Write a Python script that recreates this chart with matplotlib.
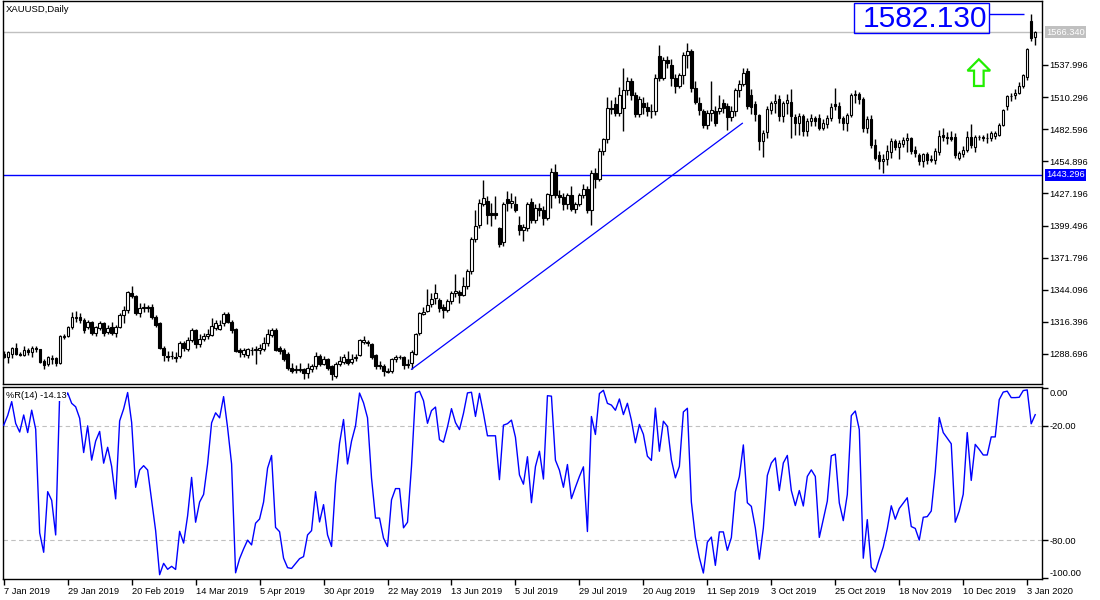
import numpy as np
import pandas as pd
import matplotlib
matplotlib.use("Agg")
import matplotlib.pyplot as plt
from matplotlib.patches import Rectangle, Polygon
from matplotlib.transforms import blended_transform_factory, ScaledTranslation

# ---------------- data (XAUUSD daily, 7 Jan 2019 .. 7 Jan 2020) ----------------
open_ = [
    1289,1286,1289,1294,1289,1288,1292,1290,1294,1293,
    1283,1280,1284,1285,1281,1303,1304,1312,1320,1321,
    1318,1312,1316,1307,1311,1315,1308,1312,1307,1312,
    1322,1327,1341,1339,1324,1328,1329,1329,1321,1315,
    1294,1287,1287,1286,1287,1298,1293,1301,1309,1297,
    1302,1304,1305,1311,1310,1315,1323,1316,1310,1292,
    1289,1288,1292,1292,1292,1293,1298,1305,1309,1294,
    1292,1289,1277,1276,1275,1276,1272,1276,1278,1287,
    1280,1284,1278,1270,1280,1282,1284,1282,1285,1288,
    1299,1299,1297,1288,1279,1278,1273,1274,1284,1286,
    1286,1279,1281,1289,1307,1323,1326,1332,1337,1335,
    1329,1327,1334,1341,1342,1340,1347,1360,1388,1400,
    1418,1421,1410,1410,1397,1385,1422,1419,1418,1400,
    1396,1397,1420,1404,1415,1413,1406,1426,1446,1426,
    1424,1418,1426,1414,1418,1426,1431,1413,1445,1440,
    1464,1474,1501,1504,1497,1501,1516,1524,1512,1496,
    1505,1502,1498,1498,1546,1527,1542,1538,1527,1520,
    1529,1547,1550,1518,1505,1498,1486,1497,1498,1498,
    1505,1503,1493,1498,1516,1522,1533,1512,1504,1495,
    1472,1480,1499,1505,1509,1494,1505,1506,1493,1488,
    1494,1481,1490,1492,1492,1484,1487,1492,1504,1503,
    1492,1488,1495,1512,1513,1509,1484,1491,1469,1460,
    1455,1457,1463,1472,1467,1470,1473,1475,1465,1460,
    1455,1461,1456,1456,1463,1478,1476,1476,1476,1458,
    1461,1465,1476,1467,1476,1476,1475,1475,1477,1478,
    1486,1503,1511,1512,1514,1520,1528,1576,1562,
]
high = [
    1291,1291,1295,1298,1290,1296,1294,1296,1296,1293,
    1284,1287,1288,1286,1305,1306,1313,1325,1326,1324,
    1320,1318,1317,1313,1317,1316,1314,1316,1314,1324,
    1330,1343,1347,1340,1333,1333,1331,1332,1322,1316,
    1296,1291,1291,1290,1300,1300,1303,1311,1310,1306,
    1307,1310,1320,1318,1318,1325,1325,1318,1311,1294,
    1294,1294,1295,1296,1297,1303,1310,1311,1311,1296,
    1294,1290,1281,1279,1281,1277,1281,1280,1290,1289,
    1287,1285,1279,1282,1287,1289,1291,1289,1289,1302,
    1304,1301,1298,1289,1283,1280,1277,1285,1288,1288,
    1287,1284,1292,1307,1325,1329,1345,1341,1349,1337,
    1332,1336,1343,1358,1344,1355,1362,1390,1413,1422,
    1439,1425,1419,1425,1398,1420,1429,1428,1425,1408,
    1401,1420,1423,1418,1419,1416,1428,1449,1453,1430,
    1428,1428,1434,1420,1428,1435,1434,1447,1449,1466,
    1475,1510,1508,1510,1519,1535,1528,1527,1515,1511,
    1510,1506,1504,1530,1555,1545,1546,1543,1530,1531,
    1549,1557,1552,1524,1510,1500,1499,1524,1503,1512,
    1509,1505,1503,1518,1525,1535,1535,1517,1507,1496,
    1482,1503,1507,1513,1512,1507,1513,1517,1496,1497,
    1496,1492,1496,1494,1496,1491,1495,1505,1518,1506,
    1494,1497,1514,1516,1515,1510,1494,1495,1474,1464,
    1461,1469,1475,1474,1473,1476,1479,1476,1468,1462,
    1462,1463,1460,1466,1482,1484,1480,1481,1479,1464,
    1468,1481,1487,1478,1478,1478,1479,1481,1481,1488,
    1500,1512,1514,1517,1523,1530,1553,1582.13,1567,
]
low = [
    1285,1281,1285,1288,1287,1287,1288,1286,1290,1281,
    1276,1278,1280,1278,1280,1302,1303,1310,1316,1315,
    1307,1310,1305,1304,1309,1304,1306,1305,1303,1311,
    1315,1324,1337,1322,1321,1325,1325,1319,1312,1293,
    1283,1283,1284,1282,1285,1291,1291,1299,1294,1295,
    1300,1302,1304,1309,1309,1313,1315,1307,1290,1286,
    1286,1285,1288,1280,1289,1291,1296,1303,1291,1289,
    1283,1275,1272,1272,1273,1267,1268,1273,1276,1278,
    1279,1275,1266,1268,1278,1280,1279,1280,1283,1287,
    1297,1296,1284,1276,1276,1270,1272,1272,1282,1284,
    1276,1277,1276,1288,1305,1322,1325,1329,1332,1325,
    1320,1325,1332,1338,1333,1339,1345,1358,1385,1397,
    1416,1401,1399,1405,1381,1382,1412,1415,1411,1391,
    1386,1395,1402,1402,1408,1400,1404,1415,1423,1419,
    1413,1414,1412,1410,1416,1423,1410,1400,1432,1438,
    1460,1471,1496,1494,1494,1481,1512,1508,1493,1493,
    1496,1494,1492,1495,1524,1525,1535,1520,1514,1518,
    1522,1535,1515,1504,1495,1484,1483,1490,1485,1496,
    1497,1482,1490,1494,1510,1520,1500,1496,1490,1465,
    1459,1475,1496,1497,1490,1489,1496,1475,1478,1478,
    1477,1477,1485,1485,1482,1482,1484,1490,1499,1488,
    1482,1481,1493,1505,1504,1480,1479,1466,1456,1448,
    1445,1452,1458,1465,1457,1467,1463,1461,1459,1452,
    1450,1453,1454,1453,1460,1472,1470,1472,1458,1456,
    1459,1463,1466,1463,1473,1472,1470.4,1472,1474,1477,
    1485,1499,1507,1509,1513,1518,1525,1559,1555,
]
close = [
    1286,1290,1294,1289,1288,1292,1290,1294,1293,1282,
    1279,1286,1285,1281,1304,1304,1312,1321,1321,1318,
    1309,1316,1307,1312,1315,1307,1311,1307,1312,1322,
    1327,1342,1339,1324,1328,1329,1328,1321,1314,1294,
    1288,1286,1287,1285,1298,1294,1301,1309,1297,1302,
    1304,1306,1313,1315,1314,1323,1316,1309,1291,1290,
    1292,1293,1292,1293,1294,1298,1306,1309,1292,1291,
    1284,1277,1274,1275,1276,1272,1277,1278,1287,1280,
    1284,1277,1271,1280,1283,1286,1281,1284,1286,1301,
    1301,1298,1286,1278,1278,1274,1274,1284,1286,1286,
    1279,1280,1290,1306,1324,1325,1331,1336,1341,1328,
    1327,1334,1341,1343,1340,1347,1360,1388,1399,1419,
    1423,1409,1409,1409,1384,1418,1419,1421,1413,1396,
    1398,1418,1404,1415,1413,1406,1427,1446,1426,1424,
    1418,1426,1414,1418,1426,1431,1413,1445,1440,1464,
    1474,1501,1500,1497,1512,1516,1524,1512,1496,1509,
    1502,1498,1498,1527,1527,1542,1540,1527,1520,1529,
    1547,1550,1518,1506,1499,1486,1497,1499,1488,1501,
    1501,1493,1498,1516,1522,1531,1503,1502,1496,1472,
    1479,1500,1505,1507,1494,1505,1508,1494,1488,1494,
    1481,1490,1492,1490,1484,1488,1492,1502,1503,1492,
    1488,1495,1512,1513,1509,1484,1491,1469,1458,1455,
    1457,1464,1472,1467,1471,1473,1475,1464,1462,1455,
    1461,1456,1457,1464,1477,1476,1475,1474,1460,1462,
    1465,1476,1469,1476,1476,1475,1475,1479,1479,1486,
    1499,1511,1511,1514,1520,1529,1552,1561,1566.34,
]
# 13 daily bars before the first shown bar (late Dec 2018), used only to warm up %R(14)
prior_high = [1250, 1252, 1259, 1263, 1262, 1271, 1272, 1277, 1283, 1284, 1290, 1295, 1298]
prior_low = [1237, 1243, 1243, 1250, 1255, 1256, 1264, 1264, 1275, 1277, 1279, 1283, 1281]

date_labels = ["7 Jan 2019", "29 Jan 2019", "20 Feb 2019", "14 Mar 2019", "5 Apr 2019",
               "30 Apr 2019", "22 May 2019", "13 Jun 2019", "5 Jul 2019", "29 Jul 2019",
               "20 Aug 2019", "11 Sep 2019", "3 Oct 2019", "25 Oct 2019", "18 Nov 2019",
               "10 Dec 2019", "3 Jan 2020"]
label_every = 16
price_ticks = [1288.696, 1316.396, 1344.096, 1371.796, 1399.496,
               1427.196, 1454.896, 1482.596, 1510.296, 1537.996]
wr_ticks = [0.0, -20.0, -80.0, -100.0]
wr_levels = [-20.0, -80.0]
level_price = 1443.296
trend_bars = [102.0, 184.75]
trend_prices = [1275.5, 1487.7]
wr_period = 14

# ---------------- computations ----------------
o = np.array(open_, float); h = np.array(high, float)
l = np.array(low, float); c = np.array(close, float)
n = len(c)
x = np.arange(n)
hh = pd.Series(prior_high + list(h)).rolling(wr_period).max().to_numpy()[len(prior_high):]
ll = pd.Series(prior_low + list(l)).rolling(wr_period).min().to_numpy()[len(prior_low):]
wr = (hh - c) / (hh - ll) * -100.0

BLUE = "#0000ff"
GRAY = "#c0c0c0"
plt.rcParams['font.family'] = ['Liberation Sans', 'DejaVu Sans']
FS = 6.7

fig = plt.figure(figsize=(11, 6), dpi=100)
fig.patch.set_facecolor("white")
ax = fig.add_axes([2.5/1100, 1-384/600, 1039.5/1100, 383/600])
ax2 = fig.add_axes([2.5/1100, 1-579/600, 1039.5/1100, 192/600])

xl = (-0.3, 259.7)
for a in (ax, ax2):
    a.set_xlim(*xl)
    for s in a.spines.values():
        s.set_color("black"); s.set_linewidth(1.0)
ax.set_ylim(1262.8, 1593.2)
ax2.set_ylim(-100.4, 0.4)

# ---- candles ----
up = c >= o
ax.vlines(x, l, h, colors="black", lw=1.0, zorder=2)
body_h = np.abs(c - o)
ax.bar(x, body_h, bottom=np.minimum(o, c), width=0.58,
       color=np.where(up, "white", "black"), edgecolor="black", linewidth=0.8, zorder=3)

# ---- lines / objects ----
ax.axhline(level_price, color=BLUE, lw=1.0, zorder=1)
ax.axhline(c[-1], color=GRAY, lw=1.0, zorder=1)
ax.plot(trend_bars, trend_prices, color=BLUE, lw=0.9, zorder=4)

hi = h.max()
hi_bar = int(np.argmax(h))
ax.hlines(hi, hi_bar - 10.5, hi_bar - 1.8, color=BLUE, lw=1.0, zorder=4)
ax.add_patch(Rectangle((hi_bar - 44.2, 1565.3), 33.7, 26.6, fill=False, ec=BLUE, lw=1.0, zorder=5))
ax.text(hi_bar - 26.5, 1570.9, f"{hi:.3f}", ha="center", va="baseline", fontsize=21.5,
        family="Liberation Sans", color=BLUE, zorder=6)

# green up arrow
ax_c, tip, hb, bot = 243.9, 1542.9, 1533.1, 1519.9
arrow = Polygon([(ax_c, tip), (ax_c + 2.83, hb), (ax_c + 1.2, hb), (ax_c + 1.2, bot),
                 (ax_c - 1.2, bot), (ax_c - 1.2, hb), (ax_c - 2.83, hb)], closed=True,
                fc="white", ec="#22ee00", lw=1.6, zorder=5)
ax.add_patch(arrow)

# ---- axes ticks ----
ax.set_xticks([])
ax.yaxis.tick_right()
ax.set_yticks(price_ticks)
ax.set_yticklabels([f"{v:.3f}" for v in price_ticks])
ax.tick_params(axis="y", direction="out", length=4, width=1, pad=1.5, labelsize=FS, colors="black")

trans = blended_transform_factory(ax.transAxes, ax.transData)
ax.annotate(f"{c[-1]:.3f}", xy=(1, c[-1]), xycoords=trans, xytext=(3, 0), textcoords="offset points",
            ha="left", va="center", fontsize=FS, color="white", annotation_clip=False,
            bbox=dict(boxstyle="square,pad=0.15", fc=GRAY, ec="none"))
ax.annotate(f"{level_price:.3f}", xy=(1, level_price), xycoords=trans, xytext=(3, 0),
            textcoords="offset points", ha="left", va="center", fontsize=FS, color="white",
            annotation_clip=False, bbox=dict(boxstyle="square,pad=0.15", fc=BLUE, ec="none"))
ax.text(3/1039.5, 1 - 8/383, "XAUUSD,Daily", transform=ax.transAxes, ha="left", va="center",
        fontsize=FS + 0.1, color="black")

# ---- Williams %R ----
ax2.plot(x, wr, color=BLUE, lw=1.0, zorder=3)
for lv in wr_levels:
    ax2.axhline(lv, color=GRAY, lw=0.8, ls=(0, (4, 3)), zorder=1)
ax2.yaxis.tick_right()
ax2.set_yticks(wr_ticks)
ax2.set_yticklabels([f"{v:.2f}" for v in wr_ticks])
ax2.tick_params(axis="y", direction="out", length=4, width=1, pad=1.5, labelsize=FS, colors="black")
# edge labels sit just inside the panel, like the terminal does
for lab, v in zip(ax2.get_yticklabels(), wr_ticks):
    if v == 0.0:
        lab.set_transform(lab.get_transform() + ScaledTranslation(0, -5/100, fig.dpi_scale_trans))
    elif v == -100.0:
        lab.set_transform(lab.get_transform() + ScaledTranslation(0, 6/100, fig.dpi_scale_trans))
ticks = list(range(0, n, label_every))[:len(date_labels)]
ax2.set_xticks(ticks)
ax2.set_xticklabels(date_labels[:len(ticks)], ha="left")
ax2.tick_params(axis="x", direction="out", length=4, width=1, pad=1.5, labelsize=FS, colors="black")
ax2.text(3/1039.5, 1 - 9/192, f"%R({wr_period}) {wr[-1]:.2f}", transform=ax2.transAxes,
         ha="left", va="center", fontsize=FS, color="black", zorder=5,
         bbox=dict(boxstyle="square,pad=0.1", fc="white", ec="none"))

fig.savefig("out.png", dpi=100, facecolor="white")
